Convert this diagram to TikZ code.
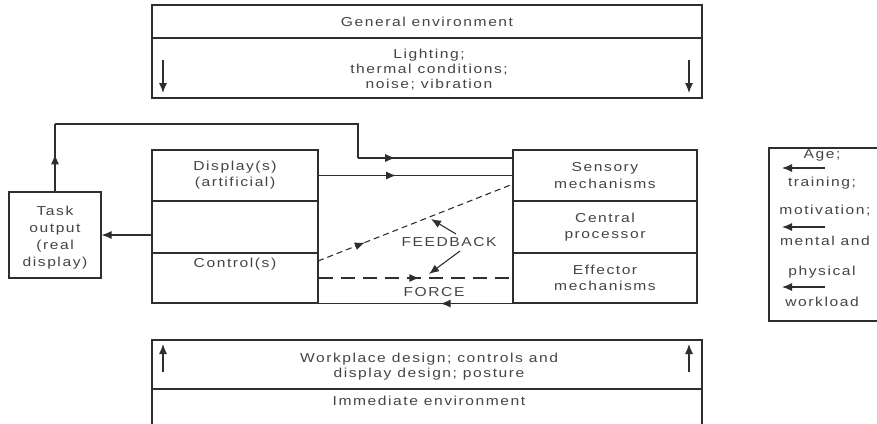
\documentclass[tikz,border=0pt]{standalone}
\usepackage{fontspec}
\setmainfont{Liberation Sans}[LetterSpace=12,FakeStretch=1.2]
\usepackage{tikz}
\usetikzlibrary{arrows.meta,positioning,calc,decorations.markings}
\definecolor{ink}{HTML}{2E2E2E}
\definecolor{txt}{HTML}{444444}

\begin{document}
\begin{tikzpicture}[x=1pt,y=-1pt,
  cell/.style={draw=ink, line width=1.1pt, minimum width=#1, inner sep=0pt},
  lbl/.style={text=txt, font=\fontsize{13}{15}\selectfont, align=center, inner sep=0pt},
  arr/.style={-{Latex[length=10pt,width=8pt]}, ink, line width=1.1pt},
  midarr/.style={ink, line width=1.1pt, postaction={decorate},
    decoration={markings, mark=at position #1 with {\arrow{Latex[length=10pt,width=8pt]}}}},
  fbdash/.style={dash pattern=on 6pt off 4pt},
  frdash/.style={dash pattern=on 14pt off 8pt}
]
  \useasboundingbox (0,0) rectangle (877,423);

  % general environment
  \node[cell=550pt, minimum height=33pt] (gen) at (427,21.5) {};
  \node[cell=550pt, minimum height=60pt] (light) at (427,68) {};
  \node[lbl] at (gen) {General environment};
  \node[lbl] at (429,69.5) {Lighting;\\thermal conditions;\\noise; vibration};
  \draw[arr] (163,60) -- (163,93);
  \draw[arr] (689,60) -- (689,93);

  % displays and controls
  \node[cell=166pt, minimum height=51pt] (disp) at (235,175.5) {};
  \node[cell=166pt, minimum height=52pt] (mid) at (235,227) {};
  \node[cell=166pt, minimum height=50pt] (ctrl) at (235,278) {};
  \node[lbl, font=\fontsize{13}{16}\selectfont] at (disp) {Display(s)\\(artificial)};
  \node[lbl] at (235,264) {Control(s)};

  % human operator
  \node[cell=184pt, minimum height=51pt] (sens) at (605,175.5) {};
  \node[cell=184pt, minimum height=52pt] (cpu) at (605,227) {};
  \node[cell=184pt, minimum height=50pt] (eff) at (605,278) {};
  \node[lbl, font=\fontsize{13}{16.5}\selectfont] at (sens) {Sensory\\mechanisms};
  \node[lbl, font=\fontsize{13}{16.5}\selectfont] at (cpu) {Central\\processor};
  \node[lbl, font=\fontsize{13}{16.5}\selectfont] at (eff) {Effector\\mechanisms};

  % task output
  \node[cell=92pt, minimum height=86pt] (task) at (55,235) {};
  \node[lbl, font=\fontsize{13}{17}\selectfont] at (55,237.5) {Task\\output\\(real\\display)};

  % personal factors
  \node[cell=116pt, minimum height=173pt] (pers) at (827,234.5) {};
  \node[lbl] (age) at (822,155) {Age;};
  \node[lbl] (trn) at (822,183) {training;};
  \node[lbl] (mot) at (825,211) {motivation;};
  \node[lbl] (men) at (825,241) {mental and};
  \node[lbl] (phy) at (822,272) {physical};
  \node[lbl] (wkl) at (822,302) {workload};
  \foreach \y in {168,227,287}
    \draw[arr] (825,\y) -- (782,\y);

  % immediate environment
  \node[cell=550pt, minimum height=49pt] (work) at (427,364.5) {};
  \node[cell=550pt, minimum height=50pt] (imm) at (427,414) {};
  \node[lbl] at (429,367) {Workplace design; controls and\\display design; posture};
  \node[lbl] at (429,401) {Immediate environment};
  \draw[arr] (163,372) -- (163,344);
  \draw[arr] (689,372) -- (689,344);

  % loops
  \coordinate (top) at (358,124);
  \coordinate (sin) at (513,158);
  \coordinate (fbA) at (318,261);
  \coordinate (fbB) at (513,184);
  \draw[midarr=0.55] (task.north) -- (task.north |- top);
  \draw[ink, line width=1.1pt] (task.north |- top) -- (top) -- (top |- sin);
  \draw[midarr=0.24] (top |- sin) -- (sin);
  \draw[midarr=0.4] (disp.east) -- (sens.west);
  \draw[arr] (mid.west |- task.east) -- (task.east);
  \draw[midarr=0.24, fbdash] (fbA) -- (fbB);
  \draw[midarr=0.52, frdash] (ctrl.east) -- (eff.west);
  \draw[midarr=0.37] (eff.south west) -- (ctrl.south east);

  % labels
  \node[lbl] (fb) at (449,242) {FEEDBACK};
  \node[lbl] (fr) at (434,292) {FORCE};
  \draw[arr] (456,234) -- (431,219);
  \draw[arr] (460,251) -- (429,274);
\end{tikzpicture}
\end{document}
